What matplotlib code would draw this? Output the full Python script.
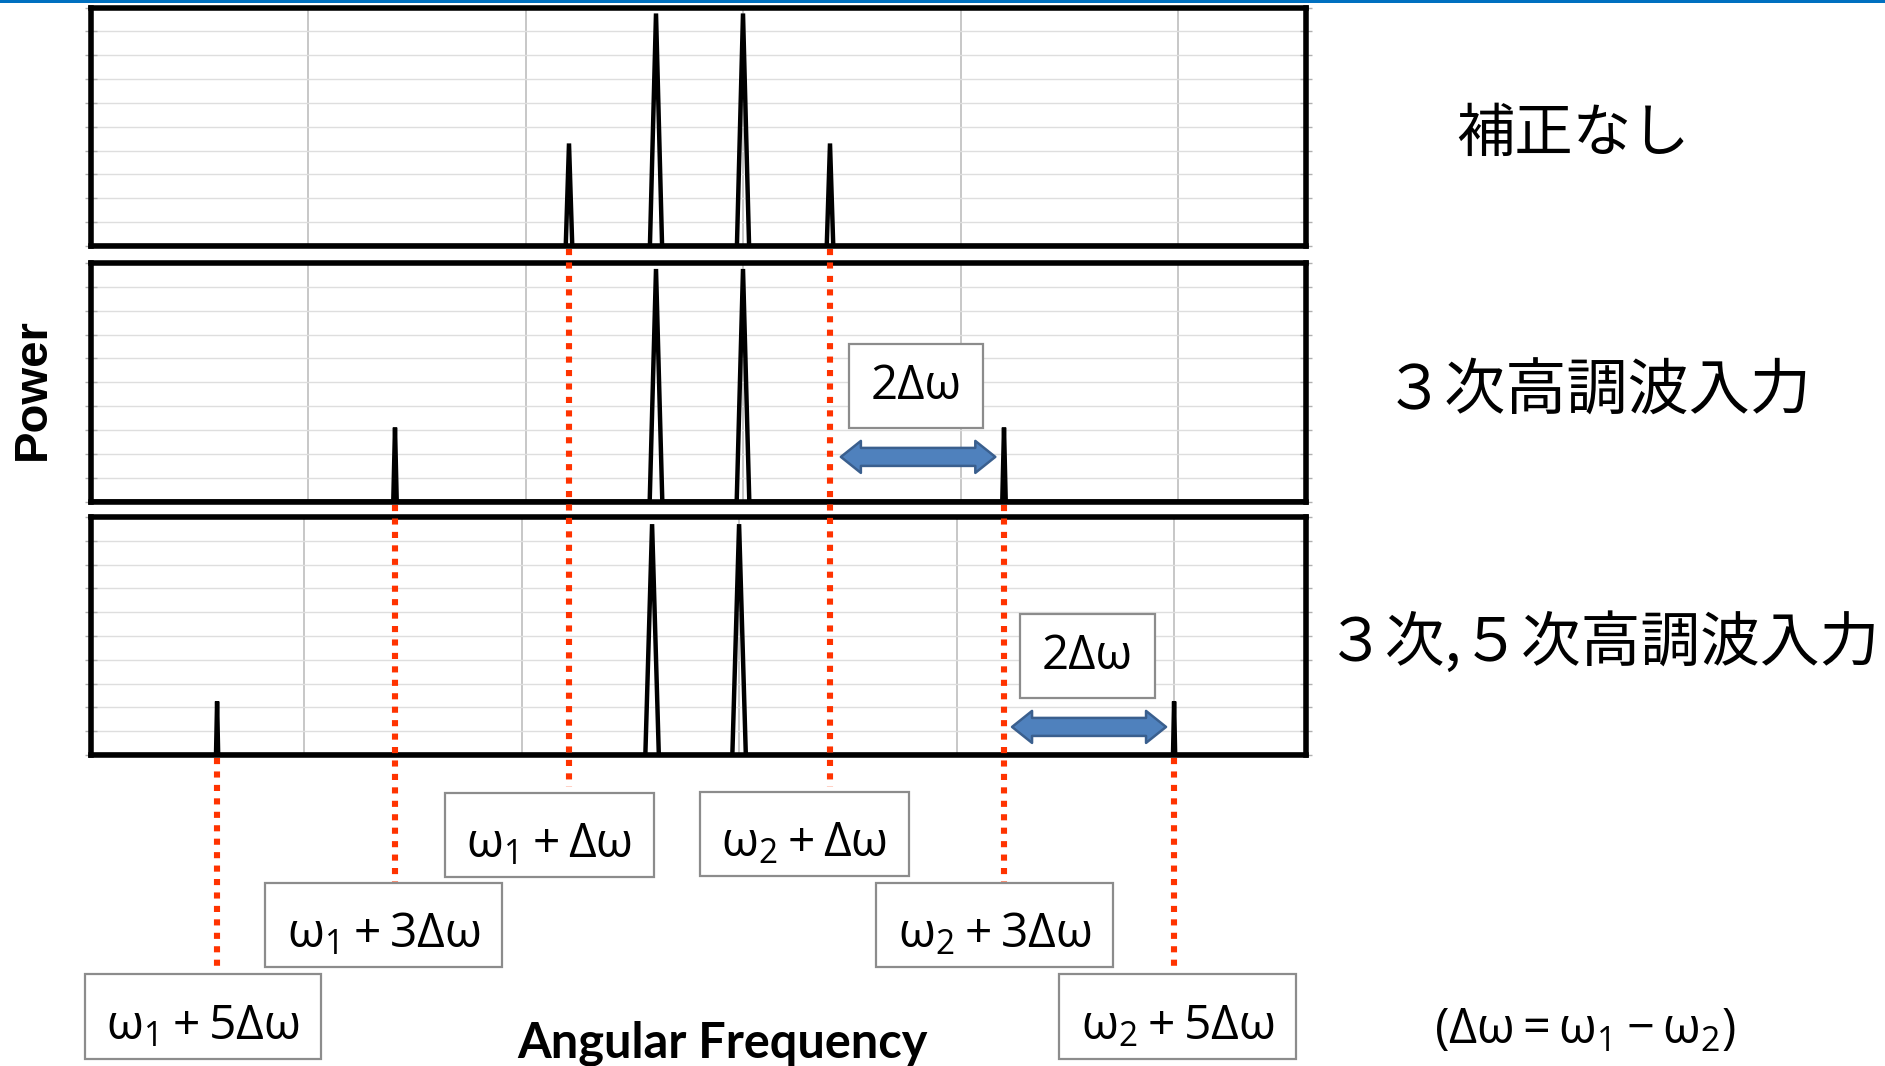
import matplotlib
matplotlib.use('Agg')
import matplotlib.pyplot as plt
from matplotlib.lines import Line2D
from matplotlib.patches import Rectangle, Polygon
from matplotlib.transforms import IdentityTransform, blended_transform_factory

plt.rcParams['mathtext.fontset'] = 'custom'
plt.rcParams['mathtext.rm'] = 'Open Sans'
plt.rcParams['mathtext.it'] = 'Open Sans:italic'
plt.rcParams['mathtext.bf'] = 'Open Sans:bold'

W, H = 1885, 1066

# スペクトルのピーク (中心, 高さ, 半値幅) をパネルごとに
peak_x = [
    [2.2, 2.6, 3.0, 3.4],
    [1.4, 2.6, 3.0, 4.2],
    [0.6, 2.6, 3.0, 5.0],
]
peak_h = [
    [4.3, 9.75, 9.75, 4.3],
    [3.1, 9.75, 9.75, 3.1],
    [2.25, 9.7, 9.7, 2.25],
]
peak_w = [
    [0.015, 0.028, 0.028, 0.015],
    [0.008, 0.029, 0.029, 0.008],
    [0.005, 0.031, 0.031, 0.005],
]
panel_titles = ['補正なし', '３次高調波入力', '３次,５次高調波入力']

# 側帯波の位置とラベル
mark_x = [2.2, 3.4, 1.4, 4.2, 0.6, 5.0]
mark_panel = [0, 0, 1, 1, 2, 2]
mark_labels = [r'$\mathrm{ω_1 + Δω}$', r'$\mathrm{ω_2 + Δω}$',
               r'$\mathrm{ω_1 + 3Δω}$', r'$\mathrm{ω_2 + 3Δω}$',
               r'$\mathrm{ω_1 + 5Δω}$', r'$\mathrm{ω_2 + 5Δω}$']

# 2Δω の矢印 (パネル, 始点, 終点, 高さ)
arrow_panel = [1, 2]
arrow_from = [3.45, 4.255]
arrow_to = [4.16, 4.963]
arrow_y = [1.87, 1.18]

# layout in pixels (from top-left)
panel_left, panel_right = 90.5, 1306
panel_top = [7.5, 263, 517]
panel_bottom = [246, 501.5, 755]
x_shift = [0.0, 0.0, 0.018]
unit_px = 217.5

mark_y_end = [787, 787, 882, 882, 968, 968]
mark_box = [(445, 793, 654, 877), (700, 792, 909, 876),
            (265, 883, 502, 967), (876, 883, 1113, 967),
            (85, 974, 321, 1059), (1059, 974, 1296, 1059)]
delta_box = [(849, 344, 983, 428), (1020, 614, 1155, 698)]
title_pos = [(1573, 134), (1598, 392), (1603, 644)]
title_size = [42, 44, 43]


def fx(x):
    return x / W


def fy(y):
    return 1 - y / H


fig = plt.figure(figsize=(W / 100, H / 100), dpi=100)
fig.patch.set_facecolor('white')

# 上端の青い線
fig.add_artist(Rectangle((0, fy(3)), 1, 3 / H, transform=fig.transFigure,
                         fc='#0070C0', ec='none', zorder=5))

axes = []
for i in range(3):
    l, r = panel_left, panel_right
    t, b = panel_top[i], panel_bottom[i]
    ax = fig.add_axes([fx(l), fy(b), (r - l) / W, (b - t) / H])
    x0 = x_shift[i]
    x1 = x0 + (r - l) / unit_px
    ax.set_xlim(x0, x1)
    ax.set_ylim(0, 10)

    xs, ys = [x0], [0]
    for c, h, w in zip(peak_x[i], peak_h[i], peak_w[i]):
        xs += [c - w, c, c + w]
        ys += [0, h, 0]
    xs.append(x1)
    ys.append(0)
    ax.plot(xs, ys, color='black', lw=3.2, solid_joinstyle='miter')

    ax.set_xticks([1, 2, 3, 4, 5])
    ax.set_yticks(range(0, 11))
    ax.grid(axis='x', color='#BDBDBD', lw=1.2)
    ax.grid(axis='y', color='#DEDEDE', lw=1.0)
    ax.set_axisbelow(True)
    ax.tick_params(axis='x', length=0, labelbottom=False)
    ax.tick_params(axis='y', left=True, right=True, direction='inout', length=9,
                   width=1, color='#B0B0B0', labelleft=False)
    for sp in ax.spines.values():
        sp.set_linewidth(4.0)
        sp.set_color('black')
        sp.set_capstyle('projecting')
    axes.append(ax)

    fig.text(fx(title_pos[i][0]), fy(title_pos[i][1]), panel_titles[i],
             ha='center', va='center', fontsize=title_size[i],
             family=['Noto Sans CJK JP', 'DejaVu Sans'])

# 赤い点線
for xv, p, y_end in zip(mark_x, mark_panel, mark_y_end):
    tr = blended_transform_factory(axes[p].transData, fig.transFigure)
    y_start = panel_bottom[p] + 3
    fig.add_artist(Line2D([xv, xv], [fy(y_start), fy(y_end)], transform=tr,
                          color='#FF3300', lw=4.4, linestyle=(0, (1.0, 1.2)),
                          dash_capstyle='butt', zorder=4))


def label_box(box, text, dy=0, size=34.5, **kw):
    x0, y0, x1, y1 = box
    fig.add_artist(Rectangle((fx(x0), fy(y1)), (x1 - x0) / W, (y1 - y0) / H,
                             transform=fig.transFigure, fc='white',
                             ec='#8C8C8C', lw=1.6, zorder=6))
    fig.text(fx((x0 + x1) / 2), fy((y0 + y1) / 2 + dy), text, ha='center',
             va='center', fontsize=size, zorder=7, **kw)


for box, lab in zip(mark_box, mark_labels):
    label_box(box, lab, dy=9)
for box in delta_box:
    label_box(box, '2Δω', dy=0, size=34, family='Open Sans')

# 2Δω の両矢印
fig.canvas.draw()
for p, a, b, yv in zip(arrow_panel, arrow_from, arrow_to, arrow_y):
    (xa, yc), (xb, _) = axes[p].transData.transform([(a, yv), (b, yv)])
    hl, hh, sh = 20, 16, 9
    verts = [(xa, yc), (xa + hl, yc + hh), (xa + hl, yc + sh), (xb - hl, yc + sh),
             (xb - hl, yc + hh), (xb, yc), (xb - hl, yc - hh), (xb - hl, yc - sh),
             (xa + hl, yc - sh), (xa + hl, yc - hh)]
    fig.add_artist(Polygon(verts, closed=True, transform=IdentityTransform(),
                           fc='#4F81BD', ec='#3A5F8E', lw=1.8,
                           joinstyle='round', zorder=6))

fig.text(fx(33), fy(389), 'Power', rotation=90, ha='center', va='center',
         fontsize=34, fontweight='bold', family='Liberation Sans')
fig.text(fx(722), fy(1057), 'Angular Frequency', ha='center', va='baseline',
         fontsize=35, fontweight='bold', family='Lato')
fig.text(fx(1585), fy(1030), r'$\mathrm{(Δω = ω_1 - ω_2)}$', ha='center',
         va='center', fontsize=35)

fig.savefig('out.png', dpi=100)
